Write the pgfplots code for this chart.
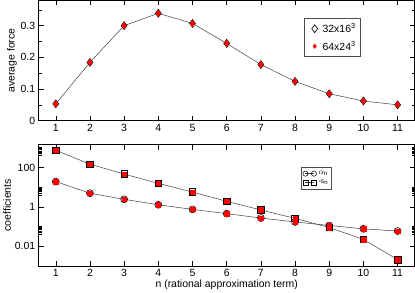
\documentclass[border=0pt]{standalone}
\usepackage{pgfplots}
\pgfplotsset{compat=1.18}
\usepackage{fontspec}
\setmainfont{Liberation Sans}
\newfontfamily\seriffont{Liberation Serif}
\begin{document}
\begin{tikzpicture}
\pgfplotsset{
  common/.style={
    scale only axis, width=378pt, height=121pt,
    xmin=0.5, xmax=11.5, xtick={1,...,11},
    tick align=inside, tick pos=both,
    major tick length=5pt, minor tick length=3pt,
    /pgf/number format/assume math mode=true,
    tick label style={font=\fontsize{10.5}{12}\selectfont},
    label style={font=\fontsize{10.5}{12}\selectfont},
    axis line style={line width=0.6pt},
    every tick/.style={black, line width=0.5pt},
  },
}
\pgfplotstableread{
n f
1 0.053
2 0.184
3 0.300
4 0.339
5 0.307
6 0.244
7 0.177
8 0.124
9 0.085
10 0.062
11 0.050
}\forcea
\pgfplotstableread{
n f
1 0.053
2 0.184
3 0.300
4 0.339
5 0.307
6 0.244
7 0.177
8 0.124
9 0.085
10 0.062
11 0.050
}\forceb
\pgfplotstableread{
n a s
1 19 750
2 4.9 146
3 2.4 46
4 1.27 15.5
5 0.74 5.6
6 0.45 1.9
7 0.27 0.69
8 0.17 0.26
9 0.113 0.089
10 0.076 0.022
11 0.059 0.0021
}\coef
\begin{axis}[common, name=top,
  ymin=0, ymax=0.38, ytick={0,0.1,0.2,0.3}, yticklabels={0,0.1,0.2,0.3},
  minor ytick={0.05,0.15,0.25,0.35},
  ylabel={average force}, ylabel style={yshift=-3pt},
  legend style={at={(0.706,0.851)}, anchor=north west, draw=black!70, line width=0.5pt,
    font=\fontsize{10.5}{12}\selectfont, inner sep=3pt, row sep=3pt, cells={anchor=west}},
  legend cell align=left,
  legend image code/.code={\path (0cm,0cm) (0.45cm,0cm); \draw[only marks,#1] plot coordinates {(0.25cm,0cm)};},
]
\addplot[black!75, line width=0.5pt, mark=diamond, mark size=4pt, mark options={solid, black, line width=0.6pt}] table[x=n,y=f]{\forcea};
\addlegendentry{32x16\textsuperscript{3}}
\addplot[only marks, mark=diamond*, mark size=3.2pt, mark options={red, fill=red}, legend image post style={mark size=2.2pt}] table[x=n,y=f]{\forceb};
\addlegendentry{64x24\textsuperscript{3}}
\end{axis}
\begin{axis}[common, at={(top.south west)}, anchor=north west, yshift=-24pt,
  height=122pt,
  ymode=log, ymin=0.001, ymax=1450,
  ytick={0.01,1,100}, yticklabels={0.01,1,100},
  minor ytick={0.04,0.05,0.06,0.07,0.08,0.09,0.1,4,5,6,7,8,9,10,400,500,600,700,800,900,1000},
  ylabel={coefficients}, ylabel style={yshift=-3pt},
  xlabel={n (rational approximation term)}, xlabel style={yshift=4pt},
  legend style={at={(0.698,0.811)}, anchor=north west, draw=black!70, line width=0.5pt,
    font=\seriffont\fontsize{8}{9}\selectfont, inner sep=1.5pt, row sep=0pt, cells={anchor=west}},
  legend image code/.code={\draw[mark repeat=1,#1] plot coordinates {(0cm,0cm) (0.3cm,0cm)};},
]
\addplot[black!75, line width=0.5pt, mark=o, mark size=3.5pt, mark options={solid, black, fill=red, line width=0.6pt},
  legend image post style={mark size=2.6pt, mark options={solid,black,fill=white,line width=0.5pt}}] table[x=n,y=a]{\coef};
\addlegendentry{$\alpha_{\mathrm{n}}$}
\addplot[black!75, line width=0.5pt, mark=square, mark size=3.3pt, mark options={solid, black, fill=red, line width=0.6pt},
  legend image post style={mark size=2.4pt, mark options={solid,black,fill=white,line width=0.5pt}}] table[x=n,y=s]{\coef};
\addlegendentry{-s$_{\mathrm{n}}$}
\addplot[only marks, forget plot, mark=square*, mark size=2.3pt, mark options={red, fill=red}] table[x=n,y=a]{\coef};
\addplot[only marks, forget plot, mark=square*, mark size=2.3pt, mark options={red, fill=red}] table[x=n,y=s]{\coef};
\end{axis}
\end{tikzpicture}
\end{document}
